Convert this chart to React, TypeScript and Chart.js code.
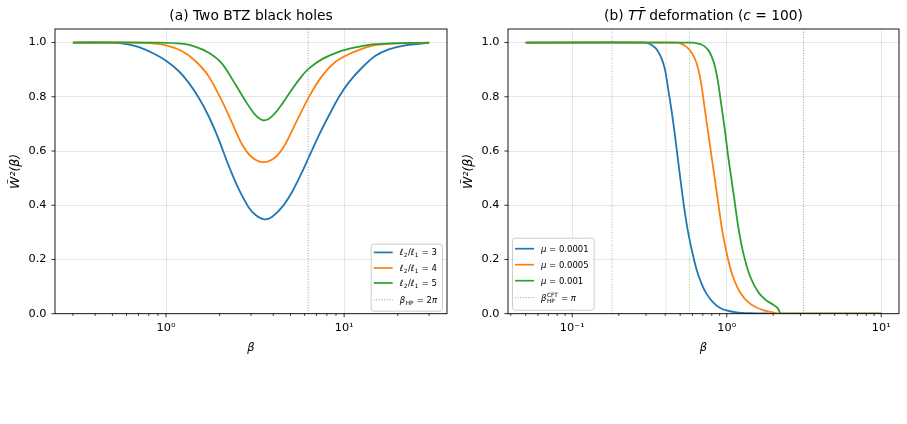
import React, { useEffect, useRef } from "react";
import { Chart, registerables } from "chart.js";
Chart.register(...registerables);

const FONT = '"DejaVu Sans", sans-serif';
const COLORS = ["#1f77b4", "#ff7f0e", "#2ca02c"];
const GRID = "rgba(176,176,176,0.32)";

// ---------- Panel (a): Two BTZ black holes ----------
const aBeta3 = [0.3, 0.45, 0.563, 0.699, 0.867, 1.0, 1.173, 1.336, 1.52, 1.73, 1.97, 2.244, 2.553, 2.907, 3.17, 3.56, 3.93, 4.48, 5.1, 5.8, 6.33, 7.2, 8.2, 9.33, 10.62, 12.62, 15.0, 17.8, 22.1, 30.0];
const aW3 = [1.0, 1.0, 0.997, 0.984, 0.957, 0.933, 0.896, 0.853, 0.798, 0.73, 0.645, 0.547, 0.461, 0.393, 0.365, 0.348, 0.357, 0.393, 0.449, 0.522, 0.577, 0.657, 0.73, 0.798, 0.853, 0.908, 0.951, 0.975, 0.99, 0.999];
const aBeta4 = [0.3, 0.65, 0.795, 1.0, 1.225, 1.456, 1.73, 2.056, 2.342, 2.665, 3.034, 3.53, 4.11, 4.68, 5.32, 6.33, 7.52, 8.94, 10.62, 13.76, 17.8, 30.0];
const aW4 = [1.0, 1.0, 0.998, 0.99, 0.969, 0.933, 0.877, 0.786, 0.706, 0.626, 0.577, 0.559, 0.577, 0.626, 0.7, 0.798, 0.877, 0.929, 0.957, 0.985, 0.995, 1.0];
const aBeta5 = [0.3, 0.9, 1.225, 1.456, 1.73, 2.056, 2.445, 2.785, 3.17, 3.53, 3.93, 4.48, 5.1, 5.8, 6.33, 7.52, 9.33, 11.58, 15.0, 30.0];
const aW5 = [1.0, 1.0, 0.996, 0.985, 0.963, 0.923, 0.847, 0.786, 0.733, 0.713, 0.728, 0.773, 0.828, 0.877, 0.904, 0.939, 0.966, 0.982, 0.994, 1.0];
const aLabels = ["ℓ₂/ℓ₁ = 3", "ℓ₂/ℓ₁ = 4", "ℓ₂/ℓ₁ = 5"];
const aRatios = ["3", "4", "5"];
const aBetaHP = 6.2832; // 2π
const aXRange = [0.238, 37.8];

// ---------- Panel (b): TT̄ deformation (c = 100) ----------
const bMu = ["0.0001", "0.0005", "0.001"];
const bBeta1 = [0.05, 0.28, 0.3032, 0.3266, 0.3516, 0.3789, 0.398, 0.418, 0.4395, 0.462, 0.4853, 0.51, 0.536, 0.563, 0.5916, 0.637, 0.686, 0.739, 0.816, 0.901, 0.995, 1.154, 1.407, 1.803, 2.25, 10];
const bW1 = [1.0, 1.0, 0.999, 0.991, 0.975, 0.941, 0.902, 0.828, 0.749, 0.659, 0.561, 0.463, 0.373, 0.299, 0.24, 0.164, 0.112, 0.074, 0.042, 0.022, 0.012, 0.005, 0.002, 0.001, 0.0, 0.0];
const bBeta2 = [0.05, 0.4733, 0.51, 0.549, 0.583, 0.6185, 0.653, 0.686, 0.721, 0.758, 0.796, 0.837, 0.879, 0.924, 0.985, 1.072, 1.213, 1.407, 1.716, 1.99, 2.198, 10];
const bW2 = [1.0, 1.0, 0.995, 0.984, 0.968, 0.944, 0.904, 0.843, 0.755, 0.669, 0.583, 0.498, 0.412, 0.326, 0.24, 0.154, 0.081, 0.038, 0.013, 0.005, 0.0, 0.0];
const bBeta3 = [0.05, 0.6065, 0.653, 0.686, 0.721, 0.758, 0.796, 0.837, 0.879, 0.924, 0.971, 1.02, 1.072, 1.126, 1.183, 1.275, 1.407, 1.593, 1.803, 1.99, 2.144, 2.253, 10];
const bW3 = [1.0, 1.0, 0.996, 0.993, 0.985, 0.973, 0.951, 0.914, 0.853, 0.767, 0.681, 0.583, 0.498, 0.412, 0.326, 0.228, 0.142, 0.081, 0.049, 0.034, 0.02, 0.0, 0.0];
const bBetaC = [0.181, 0.405, 0.574];
const bBetaHP = 3.1416; // π
const bXRange = [0.0384, 13.03];

const yTicks = [0, 0.2, 0.4, 0.6, 0.8, 1.0];
const yRange = [0, 1.05];

// ---------- helpers ----------
type Seg = { t?: string; it?: boolean; sub?: string; sup?: string };

function segs(ctx: CanvasRenderingContext2D, list: Seg[], x: number, yMid: number, size: number, draw: boolean) {
  let cx = x;
  const base = yMid + size * 0.36;
  ctx.textAlign = "left";
  ctx.textBaseline = "alphabetic";
  ctx.fillStyle = "#000";
  for (const s of list) {
    if (s.t) {
      ctx.font = `${s.it ? "italic " : ""}${size}px ${FONT}`;
      if (draw) ctx.fillText(s.t, cx, base);
      cx += ctx.measureText(s.t).width;
    }
    if (s.sub || s.sup) {
      const ss = size * 0.68;
      ctx.font = `${ss}px ${FONT}`;
      let w = 0;
      if (s.sup) {
        if (draw) ctx.fillText(s.sup, cx + 0.5, base - size * 0.45);
        w = Math.max(w, ctx.measureText(s.sup).width);
      }
      if (s.sub) {
        if (draw) ctx.fillText(s.sub, cx + 0.5, base + size * 0.22);
        w = Math.max(w, ctx.measureText(s.sub).width);
      }
      cx += w + 1;
    }
  }
  return cx - x;
}

const isPow10 = (v: number) => Math.abs(Math.log10(v) - Math.round(Math.log10(v))) < 1e-9;
const SUP: Record<string, string> = { "-": "⁻", "0": "⁰", "1": "¹", "2": "²", "3": "³" };
const powLabel = (v: number) => "10" + String(Math.round(Math.log10(v))).split("").map((c) => SUP[c]).join("");

function logTicks(min: number, max: number) {
  const out: number[] = [];
  for (let k = Math.floor(Math.log10(min)); k <= Math.ceil(Math.log10(max)); k++)
    for (let m = 1; m <= 9; m++) {
      const v = m * Math.pow(10, k);
      if (v >= min && v <= max) out.push(v);
    }
  return out;
}

const decorPlugin = {
  id: "decor",
  afterDraw(chart: any, _args: any, opts: any) {
    const ctx: CanvasRenderingContext2D = chart.ctx;
    const ca = chart.chartArea;
    ctx.save();
    // frame
    ctx.strokeStyle = "#000";
    ctx.lineWidth = 0.9;
    ctx.strokeRect(ca.left, ca.top, ca.right - ca.left, ca.bottom - ca.top);
    // tick marks
    const xs = chart.scales.x;
    ctx.beginPath();
    for (const t of xs.ticks) {
      const px = xs.getPixelForValue(t.value);
      const len = isPow10(t.value) ? 3.6 : 2.1;
      ctx.moveTo(px, ca.bottom);
      ctx.lineTo(px, ca.bottom + len);
    }
    const ys = chart.scales.y;
    for (const t of ys.ticks) {
      const py = ys.getPixelForValue(t.value);
      ctx.moveTo(ca.left, py);
      ctx.lineTo(ca.left - 3.6, py);
    }
    ctx.lineWidth = 0.8;
    ctx.stroke();
    // title
    const TS = 13.8;
    const tw = segs(ctx, opts.title, 0, 0, TS, false);
    segs(ctx, opts.title, (ca.left + ca.right) / 2 - tw / 2, 15.5, TS, true);
    // legend
    const L = opts.legend;
    const fs = 8.5;
    let maxW = 0;
    for (const it of L.items) maxW = Math.max(maxW, segs(ctx, it.segs, 0, 0, fs, false));
    const bw = 3 + 19 + 7 + maxW + 5;
    const bx = L.side === "right" ? ca.right - L.inset - bw : ca.left + L.inset;
    const by = ca.bottom - L.bottomInset - L.h;
    ctx.beginPath();
    (ctx as any).roundRect(bx + 0.5, by + 0.5, bw, L.h, 2.5);
    ctx.fillStyle = "rgba(255,255,255,0.8)";
    ctx.fill();
    ctx.strokeStyle = "#cccccc";
    ctx.lineWidth = 1;
    ctx.stroke();
    L.items.forEach((it: any, i: number) => {
      const yy = by + L.rows[i];
      ctx.beginPath();
      ctx.strokeStyle = it.color;
      ctx.lineWidth = it.dash ? 1 : 1.7;
      ctx.setLineDash(it.dash ? [1, 1.6] : []);
      ctx.moveTo(bx + 3, yy);
      ctx.lineTo(bx + 22, yy);
      ctx.stroke();
      ctx.setLineDash([]);
      segs(ctx, it.segs, bx + 29, yy, fs, true);
    });
    ctx.restore();
  },
};

function curve(xs: number[], ys: number[], color: string, label: string, order: number) {
  return {
    label,
    data: xs.map((x, i) => ({ x, y: ys[i] })),
    borderColor: color,
    backgroundColor: color,
    borderWidth: 1.8,
    pointRadius: 0,
    tension: 0.3,
    fill: false,
    order,
  };
}

function vline(x: number, color: string, label: string) {
  return {
    label,
    data: [{ x, y: yRange[0] }, { x, y: yRange[1] }],
    borderColor: color,
    borderWidth: 1,
    borderDash: [1, 1.6],
    pointRadius: 0,
    tension: 0,
    fill: false,
    order: 5,
  };
}

function makeOptions(xRange: number[], padRight: number, decor: any) {
  const xt = logTicks(xRange[0], xRange[1]);
  const tickFont = { family: FONT, size: 11.3 };
  return {
    animation: false,
    responsive: false,
    events: [],
    layout: { padding: { left: 8, right: padRight, top: 29, bottom: 69 } },
    plugins: { legend: { display: false }, tooltip: { enabled: false }, decor },
    scales: {
      x: {
        type: "logarithmic",
        min: xRange[0],
        max: xRange[1],
        afterBuildTicks: (s: any) => {
          s.ticks = xt.map((v) => ({ value: v, major: isPow10(v) }));
        },
        afterFit: (s: any) => {
          s.height = 41.3;
        },
        grid: {
          color: (c: any) => (c.tick && isPow10(c.tick.value) ? GRID : "rgba(0,0,0,0)"),
          drawTicks: false,
          lineWidth: 1,
        },
        border: { display: false },
        ticks: {
          autoSkip: false,
          maxRotation: 0,
          padding: 8,
          color: "#000",
          font: tickFont,
          callback: (v: any) => (isPow10(Number(v)) ? powLabel(Number(v)) : ""),
        },
        title: { display: true, text: "β", color: "#000", padding: 0, font: { family: FONT, size: 11.5, style: "italic" } },
      },
      y: {
        type: "linear",
        min: yRange[0],
        max: yRange[1],
        afterBuildTicks: (s: any) => {
          s.ticks = yTicks.map((v) => ({ value: v }));
        },
        afterFit: (s: any) => {
          s.width = 47;
        },
        grid: { color: GRID, drawTicks: false, lineWidth: 1 },
        border: { display: false },
        ticks: { padding: 8.5, color: "#000", font: tickFont, callback: (v: any) => Number(v).toFixed(1) },
        title: { display: true, text: "W̃²(β)", color: "#000", padding: 0, font: { family: FONT, size: 12.5, style: "italic" } },
      },
    },
  };
}

function configA(): any {
  return {
    type: "line",
    data: {
      datasets: [
        curve(aBeta3, aW3, COLORS[0], aLabels[0], 2),
        curve(aBeta4, aW4, COLORS[1], aLabels[1], 1),
        curve(aBeta5, aW5, COLORS[2], aLabels[2], 0),
        vline(aBetaHP, "rgba(128,128,128,0.75)", "β_HP = 2π"),
      ],
    },
    options: makeOptions(aXRange, 6, {
      title: [{ t: "(a) Two BTZ black holes" }],
      legend: {
        side: "right",
        inset: 5,
        bottomInset: 3,
        h: 67,
        rows: [8.7, 24.3, 39.3, 56],
        items: [
          ...aRatios.map((r, i) => ({
            color: COLORS[i],
            segs: [{ t: "ℓ", it: true, sub: "2" }, { t: "/" }, { t: "ℓ", it: true, sub: "1" }, { t: " = " + r }],
          })),
          { color: "rgba(128,128,128,0.8)", dash: true, segs: [{ t: "β", it: true, sub: "HP" }, { t: " = 2" }, { t: "π", it: true }] },
        ],
      },
    }),
    plugins: [decorPlugin],
  };
}

function configB(): any {
  const cols = ["rgba(31,119,180,0.5)", "rgba(255,127,14,0.5)", "rgba(44,160,44,0.5)"];
  return {
    type: "line",
    data: {
      datasets: [
        curve(bBeta1, bW1, COLORS[0], "μ = " + bMu[0], 2),
        curve(bBeta2, bW2, COLORS[1], "μ = " + bMu[1], 1),
        curve(bBeta3, bW3, COLORS[2], "μ = " + bMu[2], 0),
        ...bBetaC.map((b, i) => vline(b, cols[i], "β_c (μ = " + bMu[i] + ")")),
        vline(bBetaHP, "rgba(128,128,128,0.75)", "β_HP^CFT = π"),
      ],
    },
    options: makeOptions(bXRange, 8, {
      title: [{ t: "(b) " }, { t: "TT̄", it: true }, { t: " deformation (" }, { t: "c", it: true }, { t: " = 100)" }],
      legend: {
        side: "left",
        inset: 4,
        bottomInset: 4,
        h: 72,
        rows: [11, 27, 43, 60],
        items: [
          ...bMu.map((m, i) => ({ color: COLORS[i], segs: [{ t: "μ", it: true }, { t: " = " + m }] })),
          { color: "rgba(128,128,128,0.8)", dash: true, segs: [{ t: "β", it: true, sub: "HP", sup: "CFT" }, { t: " = " }, { t: "π", it: true }] },
        ],
      },
    }),
    plugins: [decorPlugin],
  };
}

function Panel({ make, left, width }: { make: () => any; left: number; width: number }) {
  const ref = useRef<HTMLCanvasElement>(null);
  useEffect(() => {
    const chart = new Chart(ref.current as HTMLCanvasElement, make());
    return () => chart.destroy();
  }, []);
  return (
    <canvas
      ref={ref}
      width={width}
      height={424}
      style={{ position: "absolute", left, top: 0, width, height: 424 }}
    />
  );
}

export default function App() {
  return (
    <div style={{ position: "fixed", left: 0, top: 0, width: 907, height: 424, background: "#fff", overflow: "hidden" }}>
      <Panel make={configA} left={0} width={453} />
      <Panel make={configB} left={453} width={454} />
    </div>
  );
}
